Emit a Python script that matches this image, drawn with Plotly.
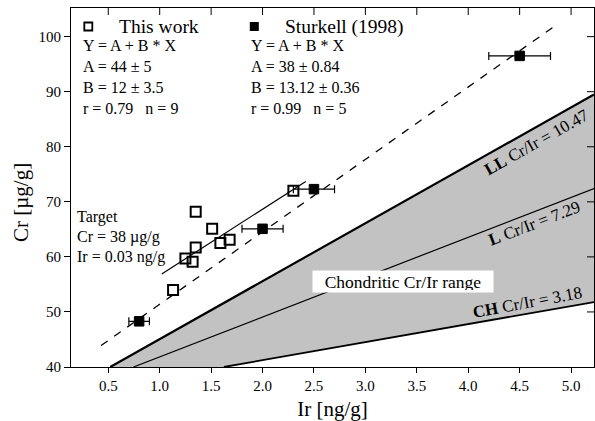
import plotly.graph_objects as go

# ---------------- data ----------------
this_work_ir = [1.13, 1.25, 1.32, 1.35, 1.35, 1.51, 1.59, 1.68, 2.30]
this_work_cr = [54.0, 59.7, 59.1, 61.7, 68.2, 65.1, 62.5, 63.1, 72.0]

sturkell_ir = [0.8, 2.0, 2.5, 4.5]
sturkell_cr = [48.3, 65.1, 72.3, 96.5]
sturkell_ir_err = [0.1, 0.2, 0.2, 0.3]

fit_this_work_ir = [1.02, 2.42]
fit_this_work_cr = [56.9, 73.7]
fit_sturkell_ir = [0.43, 4.84]
fit_sturkell_cr = [43.9, 101.9]

chond_names = ["LL", "L", "CH"]
chond_ratios = ["10.47", "7.29", "3.18"]
chond_ir_at_40 = [0.519, 0.745, 1.624]
chond_cr_at_right = [89.5, 72.4, 51.8]
chond_widths = [2.2, 1.2, 1.8]

x_ticks = [0.5, 1.0, 1.5, 2.0, 2.5, 3.0, 3.5, 4.0, 4.5, 5.0]
y_ticks = [40, 50, 60, 70, 80, 90, 100]
x_range = [0.1375, 5.223]
y_range = [40, 105.2]

FONT = "Liberation Serif"

# plot-area pixel geometry
L, R, T, B = 71, 594, 8, 367


def px_x(p):
    return (p - L) / (R - L)


def px_y(p):
    return (B - p) / (B - T)


fig = go.Figure()

# chondritic gray region between LL and CH lines
fig.add_trace(go.Scatter(
    x=[chond_ir_at_40[0], x_range[1], x_range[1], chond_ir_at_40[2], chond_ir_at_40[0]],
    y=[40, chond_cr_at_right[0], chond_cr_at_right[2], 40, 40],
    fill="toself", fillcolor="#c2c2c2", mode="lines", line=dict(width=0),
    hoverinfo="skip", showlegend=False))

for i in range(3):
    fig.add_trace(go.Scatter(
        x=[chond_ir_at_40[i], x_range[1]], y=[40, chond_cr_at_right[i]],
        mode="lines", line=dict(color="black", width=chond_widths[i]),
        showlegend=False))

# fit lines
fig.add_trace(go.Scatter(x=fit_this_work_ir, y=fit_this_work_cr, mode="lines",
                         line=dict(color="black", width=1.2), showlegend=False))
fig.add_trace(go.Scatter(x=fit_sturkell_ir, y=fit_sturkell_cr, mode="lines",
                         line=dict(color="black", width=1.3, dash="8px,8px"),
                         showlegend=False))

# Sturkell data
fig.add_trace(go.Scatter(
    x=sturkell_ir, y=sturkell_cr, mode="markers",
    marker=dict(symbol="square", size=9.5, color="black",
                line=dict(color="black", width=1)),
    error_x=dict(type="data", array=sturkell_ir_err, color="black",
                 thickness=1.2, width=4),
    showlegend=False))

# This work data
fig.add_trace(go.Scatter(
    x=this_work_ir, y=this_work_cr, mode="markers",
    marker=dict(symbol="square-open", size=10, color="black",
                line=dict(color="black", width=2)),
    showlegend=False))

axis_common = dict(showgrid=False, zeroline=False, linecolor="black",
                   linewidth=1, tickcolor="black", tickwidth=1,
                   tickfont=dict(family=FONT, size=15, color="black"))

fig.update_layout(
    width=595, height=421,
    margin=dict(l=L, r=595 - R, t=T, b=421 - B),
    paper_bgcolor="white", plot_bgcolor="white",
    font=dict(family=FONT, color="black"),
    xaxis=dict(range=x_range, tickvals=x_ticks, tickformat=".1f",
               ticks="outside", ticklen=5, showline=True, mirror=True,
               title=dict(text="Ir [ng/g]", font=dict(family=FONT, size=21),
                          standoff=8),
               **axis_common),
    yaxis=dict(range=y_range, tickvals=y_ticks, ticks="outside", ticklen=6,
               showline=True, mirror=True, **axis_common),
)

ann = []


def text(px, py, s, size=16, xanchor="left", **kw):
    ann.append(dict(x=px_x(px), y=px_y(py), xref="paper", yref="paper",
                    text=s, showarrow=False, xanchor=xanchor, yanchor="middle",
                    font=dict(family=FONT, size=size, color="black"), **kw))


nb = "\u00a0"
text(117, 26.5, "This work", 19.5)
text(81, 45, "Y = A + B * X")
text(81, 66.5, "A = 44 ± 5")
text(81, 87.5, "B = 12 ± 3.5")
text(81, 108.5, "r = 0.79" + nb * 3 + "n = 9")

text(283, 26.5, "Sturkell (1998)", 19.5)
text(249, 45, "Y = A + B * X")
text(249, 66.5, "A = 38 ± 0.84")
text(249, 87.5, "B = 13.12 ± 0.36")
text(249, 108.5, "r = 0.99" + nb * 3 + "n = 5")

text(75, 217, "Target")
text(75, 237, "Cr = 38 µg/g")
text(75, 257, "Ir = 0.03 ng/g")

# Chondritic box
ann.append(dict(x=px_x(402.7), y=px_y(281.7), xref="paper", yref="paper",
                text="Chondritic Cr/Ir range", showarrow=False,
                xanchor="center", yanchor="middle", bgcolor="white",
                width=176, height=17, borderpad=2,
                font=dict(family=FONT, size=17.5, color="black")))

# rotated ratio labels
label_pos = [(536, 142, -29.5), (534, 223, -21), (527, 302, -10.5)]
for name, ratio, (lx, ly, ang) in zip(chond_names, chond_ratios, label_pos):
    ann.append(dict(x=px_x(lx), y=px_y(ly), xref="paper", yref="paper",
                    text=f"<b>{name}</b> Cr/Ir = {ratio}", showarrow=False,
                    xanchor="center", yanchor="middle", textangle=ang,
                    font=dict(family=FONT, size=17, color="black")))

# y-axis title
ann.append(dict(x=px_x(21), y=px_y(203), xref="paper", yref="paper",
                text="Cr [µg/g]", showarrow=False, textangle=-90,
                xanchor="center", yanchor="middle",
                font=dict(family=FONT, size=21, color="black")))

fig.update_layout(annotations=ann)

shapes = [
    # legend icons
    dict(type="rect", xref="paper", yref="paper", xsizemode="pixel",
         ysizemode="pixel", xanchor=px_x(88.3), yanchor=px_y(26.5),
         x0=-4, x1=4, y0=-4, y1=4, line=dict(color="black", width=1.8),
         fillcolor="white"),
    dict(type="rect", xref="paper", yref="paper", xsizemode="pixel",
         ysizemode="pixel", xanchor=px_x(254.3), yanchor=px_y(26.5),
         x0=-4.5, x1=4.5, y0=-4.5, y1=4.5, line=dict(color="black", width=0),
         fillcolor="black"),
]
# inward ticks on the top and right frame
for xv in x_ticks:
    shapes.append(dict(type="line", xref="x", yref="paper", x0=xv, x1=xv,
                       ysizemode="pixel", yanchor=1, y0=0, y1=-7,
                       line=dict(color="black", width=1)))
for yv in y_ticks[1:]:
    shapes.append(dict(type="line", yref="y", xref="paper", y0=yv, y1=yv,
                       xsizemode="pixel", xanchor=1, x0=0, x1=-7,
                       line=dict(color="black", width=1)))
fig.update_layout(shapes=shapes)

fig.write_html("out.html")
